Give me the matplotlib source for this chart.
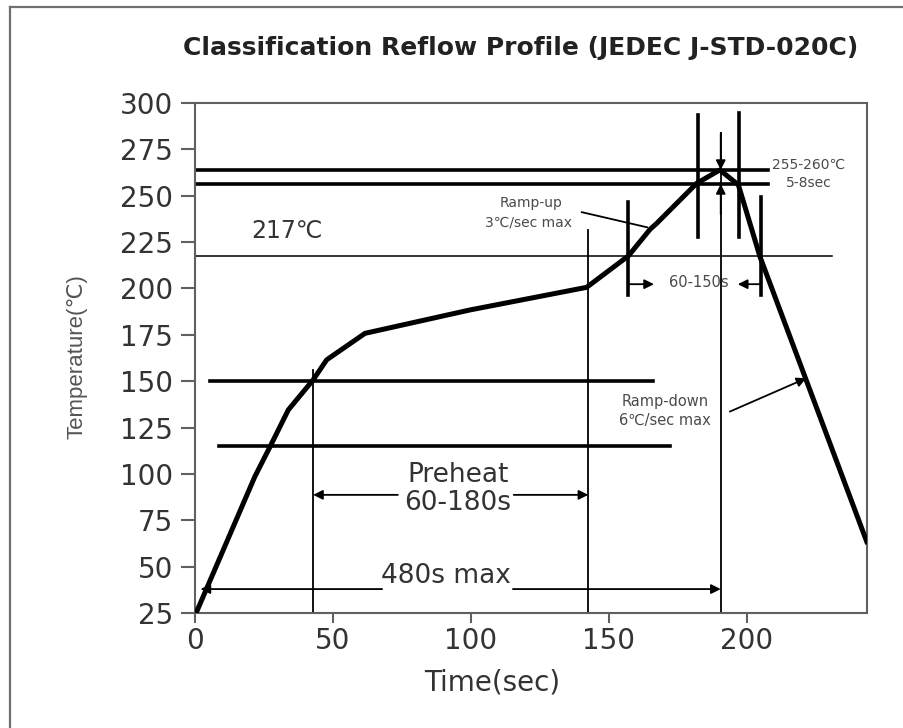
import matplotlib.pyplot as plt
from matplotlib.lines import Line2D
import numpy as np

#----------------------DATA-----------------------------------------------
# reflow profile curve
time_s = [0.4, 21.7, 27.2, 33.8, 42.8, 47.7, 61.6, 99.6, 141.9, 157.0, 164.9, 167.3,
          181.8, 190.2, 196.9, 204.7, 243.4]
temp_c = [25, 98.6, 114.7, 134.5, 150.7, 161.5, 175.8, 188.4, 200.6, 217.5, 231.9, 235.1,
          256.7, 263.9, 255.8, 217.2, 63.5]

# thick horizontal guide lines: temperature, start time, end time
h_thick_temp = [263.9, 256.3, 150.3, 114.8]
h_thick_start = [0, 0, 5.4, 8.8]
h_thick_end = [207.6, 207.6, 166.0, 172.1]

# thin 217C line
liquidus_temp = 217.3
liquidus_end = 230.8

# thin vertical lines: time, bottom temp, top temp
v_thin_time = [42.8, 142.5, 190.5]
v_thin_low = [25, 25, 25]
v_thin_high = [156.0, 231.5, 283.8]

# thick vertical markers
v_thick_time = [182.4, 197.2, 157.0, 205.1]
v_thick_low = [227.8, 227.8, 196.5, 196.5]
v_thick_high = [293.5, 294.6, 246.8, 249.2]

x_ticks = [0, 50, 100, 150, 200]
y_ticks = [25, 50, 75, 100, 125, 150, 175, 200, 225, 250, 275, 300]

title_text = "Classification Reflow Profile (JEDEC J-STD-020C)"

#----------------------FIGURE------------------------
fig = plt.figure(figsize=(9.04, 7.28), dpi=100)
ax = fig.add_axes([195/904, 1-613/728, 672/904, 510/728])

# outer frame of the picture
fig.add_artist(Line2D([10/904, 10/904], [0, 1-7/728], transform=fig.transFigure, color='#707070', lw=1.6))
fig.add_artist(Line2D([10/904, 1], [1-7/728, 1-7/728], transform=fig.transFigure, color='#707070', lw=1.6))

ax.plot(time_s, temp_c, color='black', lw=3.6, solid_joinstyle='round', zorder=5)

for i in range(len(h_thick_temp)):
    ax.plot([h_thick_start[i], h_thick_end[i]], [h_thick_temp[i], h_thick_temp[i]], color='black', lw=2.6)
ax.plot([0, liquidus_end], [liquidus_temp, liquidus_temp], color='black', lw=1.1)

for i in range(len(v_thin_time)):
    ax.plot([v_thin_time[i], v_thin_time[i]], [v_thin_low[i], v_thin_high[i]], color='black', lw=1.3)
for i in range(len(v_thick_time)):
    ax.plot([v_thick_time[i], v_thick_time[i]], [v_thick_low[i], v_thick_high[i]], color='black', lw=2.6)

arrow_kw = dict(arrowstyle='-|>', color='black', lw=1.3, mutation_scale=14, shrinkA=0, shrinkB=0)

# peak 5-8 sec arrows
ax.annotate('', xy=(190.5, 263.9), xytext=(190.5, 283.8), arrowprops=arrow_kw)
ax.annotate('', xy=(190.5, 256.3), xytext=(190.5, 240.0), arrowprops=arrow_kw)

# preheat
ax.annotate('', xy=(42.8, 88.7), xytext=(73.5, 88.7), arrowprops=arrow_kw)
ax.annotate('', xy=(142.5, 88.7), xytext=(115.5, 88.7), arrowprops=arrow_kw)
ax.text(95.3, 99.5, "Preheat", ha='center', va='center', fontsize=19, color='#333333')
ax.text(95.3, 84.4, "60-180s", ha='center', va='center', fontsize=19, color='#333333')

# 480s max
ax.annotate('', xy=(2.0, 37.9), xytext=(67.8, 37.9), arrowprops=arrow_kw)
ax.annotate('', xy=(190.5, 37.9), xytext=(115.2, 37.9), arrowprops=arrow_kw)
ax.text(91.1, 45.2, "480s max", ha='center', va='center', fontsize=19, color='#333333')

# 60-150s above liquidus
ax.annotate('', xy=(166.3, 202.3), xytext=(157.0, 202.3), arrowprops=arrow_kw)
ax.annotate('', xy=(196.7, 202.3), xytext=(205.1, 202.3), arrowprops=arrow_kw)
ax.text(182.4, 203.3, "60-150s", ha='center', va='center', fontsize=10.5, color='#4a4a4a')

# small labels
ax.text(33.4, 231.0, "217℃", ha='center', va='center', fontsize=17, color='#333333')
ax.text(222.5, 266.6, "255-260℃", ha='center', va='center', fontsize=10, color='#4a4a4a')
ax.text(222.5, 256.7, "5-8sec", ha='center', va='center', fontsize=10, color='#4a4a4a')

ax.annotate('', xy=(164.9, 232.6), xytext=(139.1, 241.5),
            arrowprops=dict(arrowstyle='-', color='black', lw=1.3))
ax.text(121.6, 246.0, "Ramp-up", ha='center', va='center', fontsize=10, color='#4a4a4a')
ax.text(120.7, 235.5, "3℃/sec max", ha='center', va='center', fontsize=10, color='#4a4a4a')

ax.annotate('', xy=(221.5, 151.6), xytext=(193.8, 133.6), arrowprops=arrow_kw)
ax.text(170.3, 139.0, "Ramp-down", ha='center', va='center', fontsize=10.5, color='#4a4a4a')
ax.text(170.3, 129.0, "6℃/sec max", ha='center', va='center', fontsize=10.5, color='#4a4a4a')

#----------------------AXES STYLE------------------------
ax.set_xlim(0, 243.5)
ax.set_ylim(25, 300)
ax.set_xticks(x_ticks)
ax.set_yticks(y_ticks)
for s in ax.spines.values():
    s.set_color('#606060')
    s.set_linewidth(1.5)
ax.tick_params(axis='y', direction='out', length=10, width=1.5, color='#606060',
               labelsize=20, labelcolor='#333333', pad=6)
ax.tick_params(axis='x', direction='out', length=7, width=1.5, color='#606060',
               labelsize=20, labelcolor='#333333', pad=3)

fig.text(492/904, 1-683/728, "Time(sec)", ha='center', va='center', fontsize=20, color='#333333')
fig.text(77/904, 1-357/728, "Temperature(℃)", ha='center', va='center', rotation=90,
         fontsize=16, color='#555555', family=['Liberation Sans', 'DejaVu Sans'])
fig.text(521/904, 1-48/728, title_text, ha='center', va='center', fontsize=18,
         fontweight='bold', color='#222222')

plt.savefig("out.png", dpi=100)
